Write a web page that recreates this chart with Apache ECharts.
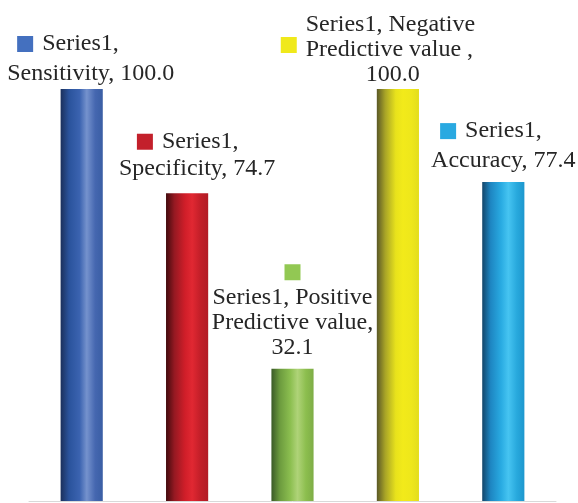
<!DOCTYPE html>
<html>
<head>
<meta charset="utf-8">
<script src="https://cdn.jsdelivr.net/npm/echarts@6/dist/echarts.min.js"></script>
<style>html,body{margin:0;padding:0;background:#fff}#c{width:578px;height:503px}</style>
</head>
<body>
<div id="c"></div>
<script>
const seriesName = 'Series1';
const categories = ['Sensitivity', 'Specificity', 'Positive Predictive value', 'Negative Predictive value', 'Accuracy'];
const values = [100.0, 74.7, 32.1, 100.0, 77.4];
const keyColors = ['#4470bf', '#c3202b', '#92c853', '#f0e91b', '#29a9e1'];
const gradients = [
  ['#1b305b', '#2a539c', '#3b63b0', '#7592cd', '#4567b0', '#3a5ea4'],
  ['#420a0e', '#951922', '#d01e29', '#e12832', '#c21e28', '#b21b25'],
  ['#3a5a27', '#6c9b3e', '#8cbf50', '#afd378', '#8cbe4e', '#7ead46'],
  ['#5a5827', '#a8a427', '#e8e21c', '#f2ea1a', '#eee71b', '#e3dd1c'],
  ['#14466a', '#1e86c2', '#29abe2', '#46c4f1', '#28a9dd', '#1d97ce']
];
const gradientStops = [0, 0.2, 0.45, 0.62, 0.82, 1];

// label text lines (built from series name, categories, values)
const labelLines = [
  [seriesName + ',', 'Sensitivity, ' + values[0].toFixed(1)],
  [seriesName + ',', 'Specificity, ' + values[1].toFixed(1)],
  [seriesName + ', Positive', 'Predictive value,', values[2].toFixed(1)],
  [seriesName + ', Negative', 'Predictive value ,', values[3].toFixed(1)],
  [seriesName + ',', 'Accuracy, ' + values[4].toFixed(1)]
];

// label layout (style only)
const FS = 24, FONT = '"Liberation Serif", "Times New Roman", serif', TXT = '#262626';
const layouts = [
  {lh: 30, dx: 9, dy: 0},
  {lh: 27, dx: 10, dy: -11},
  {lh: 25, dx: 0, dy: -9},
  {lh: 25, dx: -20, dy: -2},
  {lh: 30, dx: 0, dy: -6}
];

function buildLabel(i) {
  const L = layouts[i], lines = labelLines[i];
  const rich = {
    t: {fontSize: FS, fontFamily: FONT, color: TXT, lineHeight: L.lh, align: 'left'},
    tc: {fontSize: FS, fontFamily: FONT, color: TXT, lineHeight: L.lh, align: 'center'},
    sq: {width: 16, height: 16, backgroundColor: keyColors[i], lineHeight: L.lh, align: 'left'},
    sqc: {width: 16, height: 16, backgroundColor: keyColors[i], lineHeight: L.lh, align: 'center'},
    sqt: {width: 16, height: 16, backgroundColor: keyColors[i], lineHeight: L.lh, align: 'left', verticalAlign: 'top'},
    g: {width: 9, lineHeight: L.lh, align: 'left'},
    i1: {width: 10, lineHeight: L.lh, align: 'left'},
    i2: {width: 18, lineHeight: L.lh, align: 'left'},
    i3: {width: 9, lineHeight: L.lh, align: 'left'},
    i4: {width: 25, lineHeight: L.lh, align: 'left'},
    i5: {width: 85, lineHeight: L.lh, align: 'left'}
  };
  let f;
  if (i === 0) f = '{i1|}{sq|}{g|}{t|' + lines[0] + '}\n{t|' + lines[1] + '}';
  else if (i === 1) f = '{i2|}{sq|}{g|}{t|' + lines[0] + '}\n{t|' + lines[1] + '}';
  else if (i === 2) f = '{sqc|}\n{tc|' + lines[0] + '}\n{tc|' + lines[1] + '}\n{tc|' + lines[2] + '}';
  else if (i === 3) f = '{i4|}{t|' + lines[0] + '}\n{sqt|}{g|}{t|' + lines[1] + '}\n{i5|}{t|' + lines[2] + '}';
  else f = '{i3|}{sq|}{g|}{t|' + lines[0] + '}\n{t|' + lines[1] + '}';
  return {
    show: true, position: 'top', distance: 0, offset: [L.dx, L.dy],
    formatter: f, rich: rich
  };
}

const data = values.map((v, i) => ({
  value: v,
  itemStyle: {
    color: {
      type: 'linear', x: 0, y: 0, x2: 1, y2: 0,
      colorStops: gradients[i].map((c, k) => ({offset: gradientStops[k], color: c}))
    }
  },
  label: buildLabel(i)
}));

const chart = echarts.init(document.getElementById('c'), null, {renderer: 'canvas'});
chart.setOption({
  animation: false,
  grid: {left: 29, right: 22, top: 89, bottom: 2, containLabel: false},
  xAxis: {
    type: 'category', data: categories,
    axisLine: {show: true, lineStyle: {color: '#d9d9d9', width: 1}},
    axisTick: {show: false}, axisLabel: {show: false}, splitLine: {show: false}
  },
  yAxis: {type: 'value', min: 0, max: 100, show: false},
  series: [{
    name: seriesName, type: 'bar', barWidth: '40%', data: data
  }]
});
</script>
</body>
</html>
